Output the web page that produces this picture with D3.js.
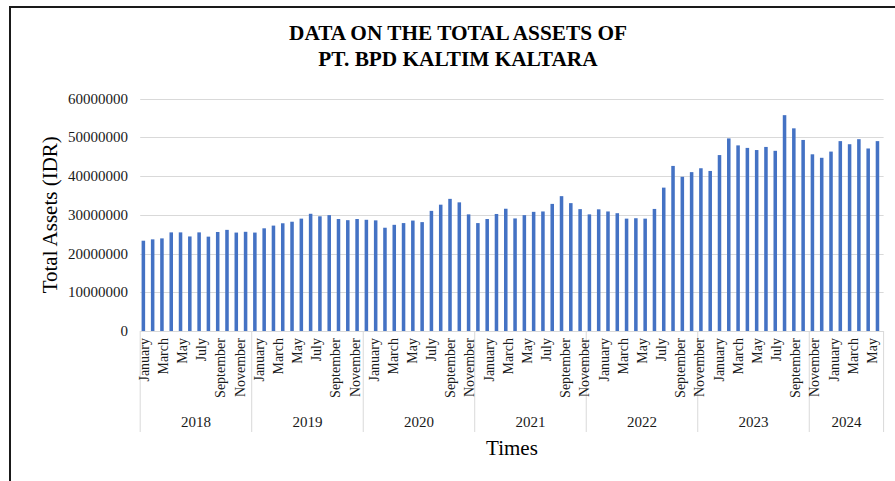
<!DOCTYPE html>
<html>
<head>
<meta charset="utf-8">
<script src="https://cdn.jsdelivr.net/npm/d3@7"></script>
<style>
  html, body { margin: 0; padding: 0; background: #fff; }
  svg { display: block; }
</style>
</head>
<body>
<svg id="chart" width="895" height="481"></svg>
<script>
// ---- data ----
const titleLines = ["DATA ON THE TOTAL ASSETS OF", "PT. BPD KALTIM KALTARA"];
const yAxisTitle = "Total Assets (IDR)";
const xAxisTitle = "Times";
const monthNames = ["January","February","March","April","May","June","July","August","September","October","November","December"];
const years = ["2018","2019","2020","2021","2022","2023","2024"];
const assets2018 = [23300000,23650000,23900000,25450000,25450000,24400000,25450000,24350000,25550000,26100000,25400000,25600000];
const assets2019 = [25400000,26500000,27200000,27800000,28200000,29000000,30250000,29600000,29900000,28900000,28600000,28900000];
const assets2020 = [28700000,28550000,26650000,27400000,27850000,28500000,28100000,31000000,32600000,34100000,33200000,30100000];
const assets2021 = [27850000,28900000,30200000,31550000,29050000,29900000,30750000,30850000,32800000,34800000,33000000,31450000];
const assets2022 = [30100000,31400000,30850000,30400000,29000000,29100000,29000000,31500000,37000000,42600000,39800000,41000000];
const assets2023 = [42000000,41300000,45400000,49700000,47900000,47250000,46700000,47500000,46500000,55700000,52300000,49300000];
const assets2024 = [45600000,44700000,46300000,49000000,48200000,49500000,47100000,49000000];
const yTicks = [0,10000000,20000000,30000000,40000000,50000000,60000000];

const seriesByYear = [assets2018, assets2019, assets2020, assets2021, assets2022, assets2023, assets2024];
const rows = [];
seriesByYear.forEach((arr, yi) => arr.forEach((v, mi) => rows.push({year: years[yi], month: monthNames[mi], mi, value: v})));

// ---- layout ----
const svg = d3.select("#chart");
const plotLeft = 140.2, plotRight = 883.6, plotTop = 98.5, plotBottom = 331;
const serif = "'Liberation Serif','Times New Roman',serif";

const x = d3.scaleBand().domain(d3.range(rows.length)).range([plotLeft, plotRight]).padding(0);
const y = d3.scaleLinear().domain([0, 60000000]).range([plotBottom, plotTop]);
const labelX = d3.scaleLinear().domain([0, rows.length - 1]).range([144, 144 + (rows.length - 1) * 9.58]);
const bw = x.bandwidth();

svg.append("rect").attr("width", 895).attr("height", 481).attr("fill", "#fff");

// frame
svg.append("path").attr("d", "M10,481V7H895").attr("fill", "none").attr("stroke", "#1a1a1a").attr("stroke-width", 2);

// title
svg.append("g").selectAll("text").data(titleLines).join("text")
  .attr("x", 458).attr("y", (d, i) => 40 + i * 25.5)
  .attr("text-anchor", "middle")
  .attr("font-family", serif).attr("font-weight", "bold").attr("font-size", 21.3)
  .attr("fill", "#000").text(d => d);

// gridlines
svg.append("g").selectAll("line").data(yTicks).join("line")
  .attr("x1", plotLeft).attr("x2", plotRight)
  .attr("y1", d => Math.round(y(d)) + 0.5).attr("y2", d => Math.round(y(d)) + 0.5)
  .attr("stroke", "#d9d9d9").attr("stroke-width", 1);

// y tick labels
svg.append("g").selectAll("text").data(yTicks).join("text")
  .attr("x", 128).attr("y", d => y(d)).attr("dy", "0.34em")
  .attr("text-anchor", "end")
  .attr("font-family", serif).attr("font-size", 15)
  .attr("fill", "#1a1a1a").text(d => d3.format("d")(d));

// bars
svg.append("g").selectAll("rect").data(rows).join("rect")
  .attr("x", (d, i) => x(i) + bw * 0.15)
  .attr("width", bw * 0.38)
  .attr("y", d => y(d.value))
  .attr("height", d => y(0) - y(d.value))
  .attr("fill", "#4472c4");

// category axis separators
const boundaries = [0];
let acc = 0;
seriesByYear.forEach(arr => { acc += arr.length; boundaries.push(acc); });
svg.append("g").selectAll("line").data(boundaries).join("line")
  .attr("x1", d => d < rows.length ? x(d) : plotRight)
  .attr("x2", d => d < rows.length ? x(d) : plotRight)
  .attr("y1", plotBottom).attr("y2", 432)
  .attr("stroke", "#d9d9d9").attr("stroke-width", 1);

// month labels (every other month)
svg.append("g").selectAll("text")
  .data(rows.map((d, i) => ({...d, i})).filter(d => d.mi % 2 === 0 && labelX(d.i) < plotRight - 5))
  .join("text")
  .attr("transform", d => `translate(${labelX(d.i)},338) rotate(-90)`)
  .attr("dy", "0.34em")
  .attr("text-anchor", "end")
  .attr("font-family", serif).attr("font-size", 14)
  .attr("fill", "#1a1a1a").text(d => d.month);

// year labels
svg.append("g").selectAll("text").data(years).join("text")
  .attr("x", (d, i) => {
    const a = x(boundaries[i]);
    const b = boundaries[i + 1] < rows.length ? x(boundaries[i + 1]) : plotRight;
    return (a + b) / 2;
  })
  .attr("y", 427)
  .attr("text-anchor", "middle")
  .attr("font-family", serif).attr("font-size", 15)
  .attr("fill", "#1a1a1a").text(d => d);

// axis titles
svg.append("text")
  .attr("transform", `translate(57,${(plotTop + plotBottom) / 2}) rotate(-90)`)
  .attr("text-anchor", "middle")
  .attr("font-family", serif).attr("font-size", 21)
  .attr("fill", "#000").text(yAxisTitle);

svg.append("text")
  .attr("x", 512).attr("y", 455)
  .attr("text-anchor", "middle")
  .attr("font-family", serif).attr("font-size", 21)
  .attr("fill", "#000").text(xAxisTitle);
</script>
</body>
</html>
